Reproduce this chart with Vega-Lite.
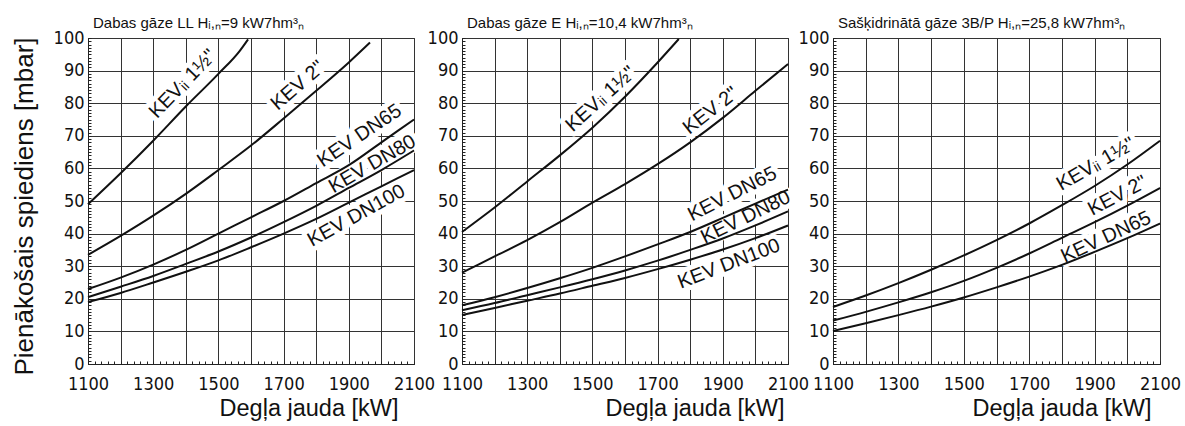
{
  "$schema": "https://vega.github.io/schema/vega-lite/v6.json",
  "padding": {"left": 10, "top": 15, "right": 5, "bottom": 2},
  "background": "white",
  "datasets": {
    "curves": [
      {"panel": "LL", "curve": "a", "x": 1100, "y": 49},
      {"panel": "LL", "curve": "a", "x": 1200, "y": 58.5},
      {"panel": "LL", "curve": "a", "x": 1300, "y": 68.5},
      {"panel": "LL", "curve": "a", "x": 1400, "y": 79},
      {"panel": "LL", "curve": "a", "x": 1500, "y": 89},
      {"panel": "LL", "curve": "a", "x": 1565, "y": 96},
      {"panel": "LL", "curve": "a", "x": 1591, "y": 99.6},
      {"panel": "LL", "curve": "b", "x": 1100, "y": 33.5},
      {"panel": "LL", "curve": "b", "x": 1200, "y": 39.3},
      {"panel": "LL", "curve": "b", "x": 1300, "y": 45.5},
      {"panel": "LL", "curve": "b", "x": 1400, "y": 52.2},
      {"panel": "LL", "curve": "b", "x": 1500, "y": 59.5},
      {"panel": "LL", "curve": "b", "x": 1600, "y": 67},
      {"panel": "LL", "curve": "b", "x": 1700, "y": 75.3},
      {"panel": "LL", "curve": "b", "x": 1800, "y": 83.8},
      {"panel": "LL", "curve": "b", "x": 1900, "y": 92.5},
      {"panel": "LL", "curve": "b", "x": 1965, "y": 98.6},
      {"panel": "LL", "curve": "c", "x": 1100, "y": 23},
      {"panel": "LL", "curve": "c", "x": 1200, "y": 26.5},
      {"panel": "LL", "curve": "c", "x": 1300, "y": 30.5},
      {"panel": "LL", "curve": "c", "x": 1400, "y": 35},
      {"panel": "LL", "curve": "c", "x": 1500, "y": 40},
      {"panel": "LL", "curve": "c", "x": 1600, "y": 45},
      {"panel": "LL", "curve": "c", "x": 1700, "y": 50},
      {"panel": "LL", "curve": "c", "x": 1800, "y": 55.5},
      {"panel": "LL", "curve": "c", "x": 1900, "y": 61},
      {"panel": "LL", "curve": "c", "x": 2000, "y": 68},
      {"panel": "LL", "curve": "c", "x": 2100, "y": 75},
      {"panel": "LL", "curve": "d", "x": 1100, "y": 20.5},
      {"panel": "LL", "curve": "d", "x": 1200, "y": 23.7},
      {"panel": "LL", "curve": "d", "x": 1300, "y": 27},
      {"panel": "LL", "curve": "d", "x": 1400, "y": 30.7},
      {"panel": "LL", "curve": "d", "x": 1500, "y": 34.5},
      {"panel": "LL", "curve": "d", "x": 1600, "y": 38.8},
      {"panel": "LL", "curve": "d", "x": 1700, "y": 43.5},
      {"panel": "LL", "curve": "d", "x": 1800, "y": 48.5},
      {"panel": "LL", "curve": "d", "x": 1900, "y": 54},
      {"panel": "LL", "curve": "d", "x": 2000, "y": 59.5},
      {"panel": "LL", "curve": "d", "x": 2100, "y": 65.5},
      {"panel": "LL", "curve": "e", "x": 1100, "y": 19},
      {"panel": "LL", "curve": "e", "x": 1200, "y": 21.8},
      {"panel": "LL", "curve": "e", "x": 1300, "y": 25},
      {"panel": "LL", "curve": "e", "x": 1400, "y": 28.3},
      {"panel": "LL", "curve": "e", "x": 1500, "y": 31.8},
      {"panel": "LL", "curve": "e", "x": 1600, "y": 35.8},
      {"panel": "LL", "curve": "e", "x": 1700, "y": 40},
      {"panel": "LL", "curve": "e", "x": 1800, "y": 44.5},
      {"panel": "LL", "curve": "e", "x": 1900, "y": 49.5},
      {"panel": "LL", "curve": "e", "x": 2000, "y": 54.5},
      {"panel": "LL", "curve": "e", "x": 2100, "y": 59.5},
      {"panel": "E", "curve": "a", "x": 1100, "y": 40.5},
      {"panel": "E", "curve": "a", "x": 1200, "y": 48},
      {"panel": "E", "curve": "a", "x": 1300, "y": 56},
      {"panel": "E", "curve": "a", "x": 1400, "y": 64},
      {"panel": "E", "curve": "a", "x": 1500, "y": 72.5},
      {"panel": "E", "curve": "a", "x": 1600, "y": 82},
      {"panel": "E", "curve": "a", "x": 1700, "y": 92.5},
      {"panel": "E", "curve": "a", "x": 1765, "y": 99.7},
      {"panel": "E", "curve": "b", "x": 1100, "y": 28},
      {"panel": "E", "curve": "b", "x": 1200, "y": 33},
      {"panel": "E", "curve": "b", "x": 1300, "y": 38},
      {"panel": "E", "curve": "b", "x": 1400, "y": 43.5},
      {"panel": "E", "curve": "b", "x": 1500, "y": 49.5},
      {"panel": "E", "curve": "b", "x": 1600, "y": 55.2},
      {"panel": "E", "curve": "b", "x": 1700, "y": 61.3},
      {"panel": "E", "curve": "b", "x": 1800, "y": 68},
      {"panel": "E", "curve": "b", "x": 1900, "y": 75.5},
      {"panel": "E", "curve": "b", "x": 2000, "y": 83.8},
      {"panel": "E", "curve": "b", "x": 2100, "y": 92},
      {"panel": "E", "curve": "c", "x": 1100, "y": 18},
      {"panel": "E", "curve": "c", "x": 1200, "y": 20.5},
      {"panel": "E", "curve": "c", "x": 1300, "y": 23.3},
      {"panel": "E", "curve": "c", "x": 1400, "y": 26.3},
      {"panel": "E", "curve": "c", "x": 1500, "y": 29.5},
      {"panel": "E", "curve": "c", "x": 1600, "y": 33},
      {"panel": "E", "curve": "c", "x": 1700, "y": 36.7},
      {"panel": "E", "curve": "c", "x": 1800, "y": 40.5},
      {"panel": "E", "curve": "c", "x": 1900, "y": 44.8},
      {"panel": "E", "curve": "c", "x": 2000, "y": 49.2},
      {"panel": "E", "curve": "c", "x": 2100, "y": 53.5},
      {"panel": "E", "curve": "d", "x": 1100, "y": 16.5},
      {"panel": "E", "curve": "d", "x": 1200, "y": 18.7},
      {"panel": "E", "curve": "d", "x": 1300, "y": 21.1},
      {"panel": "E", "curve": "d", "x": 1400, "y": 23.5},
      {"panel": "E", "curve": "d", "x": 1500, "y": 26},
      {"panel": "E", "curve": "d", "x": 1600, "y": 28.7},
      {"panel": "E", "curve": "d", "x": 1700, "y": 31.7},
      {"panel": "E", "curve": "d", "x": 1800, "y": 35},
      {"panel": "E", "curve": "d", "x": 1900, "y": 38.5},
      {"panel": "E", "curve": "d", "x": 2000, "y": 42.5},
      {"panel": "E", "curve": "d", "x": 2100, "y": 46.8},
      {"panel": "E", "curve": "e", "x": 1100, "y": 15},
      {"panel": "E", "curve": "e", "x": 1200, "y": 17.2},
      {"panel": "E", "curve": "e", "x": 1300, "y": 19.4},
      {"panel": "E", "curve": "e", "x": 1400, "y": 21.6},
      {"panel": "E", "curve": "e", "x": 1500, "y": 24},
      {"panel": "E", "curve": "e", "x": 1600, "y": 26.4},
      {"panel": "E", "curve": "e", "x": 1700, "y": 29.1},
      {"panel": "E", "curve": "e", "x": 1800, "y": 32},
      {"panel": "E", "curve": "e", "x": 1900, "y": 35.1},
      {"panel": "E", "curve": "e", "x": 2000, "y": 38.6},
      {"panel": "E", "curve": "e", "x": 2100, "y": 42.5},
      {"panel": "P", "curve": "a", "x": 1100, "y": 17.5},
      {"panel": "P", "curve": "a", "x": 1200, "y": 21},
      {"panel": "P", "curve": "a", "x": 1300, "y": 24.8},
      {"panel": "P", "curve": "a", "x": 1400, "y": 28.9},
      {"panel": "P", "curve": "a", "x": 1500, "y": 33.3},
      {"panel": "P", "curve": "a", "x": 1600, "y": 38},
      {"panel": "P", "curve": "a", "x": 1700, "y": 43.1},
      {"panel": "P", "curve": "a", "x": 1800, "y": 48.7},
      {"panel": "P", "curve": "a", "x": 1900, "y": 54.6},
      {"panel": "P", "curve": "a", "x": 2000, "y": 61.2},
      {"panel": "P", "curve": "a", "x": 2100, "y": 68.5},
      {"panel": "P", "curve": "b", "x": 1100, "y": 13.3},
      {"panel": "P", "curve": "b", "x": 1200, "y": 16},
      {"panel": "P", "curve": "b", "x": 1300, "y": 18.9},
      {"panel": "P", "curve": "b", "x": 1400, "y": 22},
      {"panel": "P", "curve": "b", "x": 1500, "y": 25.5},
      {"panel": "P", "curve": "b", "x": 1600, "y": 29.5},
      {"panel": "P", "curve": "b", "x": 1700, "y": 33.9},
      {"panel": "P", "curve": "b", "x": 1800, "y": 38.7},
      {"panel": "P", "curve": "b", "x": 1900, "y": 43.5},
      {"panel": "P", "curve": "b", "x": 2000, "y": 48.6},
      {"panel": "P", "curve": "b", "x": 2100, "y": 54},
      {"panel": "P", "curve": "c", "x": 1100, "y": 10.1},
      {"panel": "P", "curve": "c", "x": 1200, "y": 12.5},
      {"panel": "P", "curve": "c", "x": 1300, "y": 15},
      {"panel": "P", "curve": "c", "x": 1400, "y": 17.6},
      {"panel": "P", "curve": "c", "x": 1500, "y": 20.4},
      {"panel": "P", "curve": "c", "x": 1600, "y": 23.5},
      {"panel": "P", "curve": "c", "x": 1700, "y": 26.8},
      {"panel": "P", "curve": "c", "x": 1800, "y": 30.4},
      {"panel": "P", "curve": "c", "x": 1900, "y": 34.4},
      {"panel": "P", "curve": "c", "x": 2000, "y": 38.6},
      {"panel": "P", "curve": "c", "x": 2100, "y": 43.1}
    ],
    "labels": [
      {"panel": "LL", "label": "KEVᵢᵢ 1½\"", "x": 1391, "y": 85.9, "angle": -46},
      {"panel": "LL", "label": "KEV 2\"", "x": 1744, "y": 85.4, "angle": -41},
      {"panel": "LL", "label": "KEV DN65", "x": 1933, "y": 70, "angle": -34},
      {"panel": "LL", "label": "KEV DN80", "x": 1972, "y": 61.3, "angle": -30},
      {"panel": "LL", "label": "KEV DN100", "x": 1923, "y": 45.5, "angle": -29},
      {"panel": "E", "label": "KEVᵢᵢ 1½\"", "x": 1526, "y": 81.3, "angle": -42},
      {"panel": "E", "label": "KEV 2\"", "x": 1863, "y": 77.7, "angle": -38},
      {"panel": "E", "label": "KEV DN65", "x": 1929, "y": 52.1, "angle": -27},
      {"panel": "E", "label": "KEV DN80", "x": 1970, "y": 45, "angle": -26},
      {"panel": "E", "label": "KEV DN100", "x": 1919, "y": 30.7, "angle": -21},
      {"panel": "P", "label": "KEVᵢᵢ 1½\"", "x": 1904, "y": 61.3, "angle": -30},
      {"panel": "P", "label": "KEV 2\"", "x": 1970, "y": 51.6, "angle": -28},
      {"panel": "P", "label": "KEV DN65", "x": 1935, "y": 38.9, "angle": -25}
    ]
  },
  "config": {
    "font": "Liberation Sans",
    "view": {"stroke": "#222", "strokeWidth": 1},
    "axis": {
      "labelFont": "DejaVu Sans Condensed, sans-serif",
      "labelFontSize": 18,
      "labelColor": "#111",
      "titleFont": "Liberation Sans",
      "titleFontWeight": "normal",
      "titleColor": "#111",
      "gridColor": "#333",
      "gridOpacity": 1,
      "gridWidth": 1,
      "domainColor": "#222",
      "tickColor": "#222",
      "labelOverlap": false,
      "labelFlush": false
    },
    "title": {"anchor": "start", "frame": "group", "fontSize": 15, "fontWeight": "normal", "font": "Liberation Sans", "color": "#111", "baseline": "alphabetic", "offset": -2, "dx": 5}
  },
  "spacing": 48,
  "bounds": "flush",
  "hconcat": [
    {
      "width": 326, "height": 326,
      "title": {"text": "Dabas gāze LL Hᵢ,ₙ=9 kW7hm³ₙ"},
      "layer": [
        {
          "data": {"name": "labels"},
          "transform": [{"filter": "datum.panel === 'LL'"}],
          "mark": {"type": "text", "fontSize": 20, "fill": "white", "stroke": "white", "strokeWidth": 10, "strokeJoin": "round", "align": "center", "baseline": "middle"},
          "encoding": {
            "x": {"field": "x", "type": "quantitative", "scale": {"domain": [1100, 2100], "nice": false, "zero": false},
              "axis": {"orient": "bottom", "values": [1100,1120,1140,1160,1180,1200,1220,1240,1260,1280,1300,1320,1340,1360,1380,1400,1420,1440,1460,1480,1500,1520,1540,1560,1580,1600,1620,1640,1660,1680,1700,1720,1740,1760,1780,1800,1820,1840,1860,1880,1900,1920,1940,1960,1980,2000,2020,2040,2060,2080,2100], "labels": false, "domain": false, "grid": false, "tickSize": -3, "title": null}},
            "y": {"field": "y", "type": "quantitative", "scale": {"domain": [0, 100], "nice": false, "zero": false},
              "axis": {"orient": "left", "values": [0,1,2,3,4,5,6,7,8,9,10,11,12,13,14,15,16,17,18,19,20,21,22,23,24,25,26,27,28,29,30,31,32,33,34,35,36,37,38,39,40,41,42,43,44,45,46,47,48,49,50,51,52,53,54,55,56,57,58,59,60,61,62,63,64,65,66,67,68,69,70,71,72,73,74,75,76,77,78,79,80,81,82,83,84,85,86,87,88,89,90,91,92,93,94,95,96,97,98,99,100], "labels": false, "domain": false, "grid": false, "tickSize": -3, "title": null}},
            "text": {"field": "label"},
            "angle": {"field": "angle", "type": "quantitative", "scale": null}
          }
        },
        {
          "data": {"name": "curves"},
          "transform": [{"filter": "datum.panel === 'LL'"}],
          "mark": {"type": "line", "interpolate": "monotone", "color": "#111", "strokeWidth": 2},
          "encoding": {
            "x": {"field": "x", "type": "quantitative", "scale": {"domain": [1100, 2100], "nice": false, "zero": false},
              "axis": {"orient": "bottom", "values": [1100,1200,1300,1400,1500,1600,1700,1800,1900,2000,2100], "labelExpr": "datum.value % 200 == 100 ? datum.value : ''", "ticks": false, "labelPadding": 11, "grid": true, "title": "Degļa jauda [kW]", "titleFontSize": 23.5, "titleX": 310, "titleY": 51, "titleAlign": "right", "titleBaseline": "alphabetic"}},
            "y": {"field": "y", "type": "quantitative", "scale": {"domain": [0, 100], "nice": false, "zero": false},
              "axis": {"orient": "left", "values": [0,10,20,30,40,50,60,70,80,90,100], "ticks": false, "labelPadding": 4, "grid": true, "title": "Pienākošais spiediens [mbar]", "titleFontSize": 26, "titleX": -64, "titleY": 168, "titleAngle": 270, "titleAlign": "center", "titleBaseline": "middle"}},
            "detail": {"field": "curve"}
          }
        },
        {
          "data": {"name": "labels"},
          "transform": [{"filter": "datum.panel === 'LL'"}],
          "mark": {"type": "text", "fontSize": 20, "fill": "#111", "align": "center", "baseline": "middle"},
          "encoding": {
            "x": {"field": "x", "type": "quantitative", "scale": {"domain": [1100, 2100], "nice": false, "zero": false}, "axis": null},
            "y": {"field": "y", "type": "quantitative", "scale": {"domain": [0, 100], "nice": false, "zero": false}, "axis": null},
            "text": {"field": "label"},
            "angle": {"field": "angle", "type": "quantitative", "scale": null}
          }
        }
      ],
      "resolve": {"axis": {"x": "independent", "y": "independent"}}
    },
    {
      "spacing": 45,
      "bounds": "flush",
      "hconcat": [
        {
          "width": 326, "height": 326,
          "title": {"text": "Dabas gāze E Hᵢ,ₙ=10,4 kW7hm³ₙ"},
          "layer": [
            {
              "data": {"name": "labels"},
              "transform": [{"filter": "datum.panel === 'E'"}],
              "mark": {"type": "text", "fontSize": 20, "fill": "white", "stroke": "white", "strokeWidth": 10, "strokeJoin": "round", "align": "center", "baseline": "middle"},
              "encoding": {
                "x": {"field": "x", "type": "quantitative", "scale": {"domain": [1100, 2100], "nice": false, "zero": false},
                  "axis": {"orient": "bottom", "values": [1100,1120,1140,1160,1180,1200,1220,1240,1260,1280,1300,1320,1340,1360,1380,1400,1420,1440,1460,1480,1500,1520,1540,1560,1580,1600,1620,1640,1660,1680,1700,1720,1740,1760,1780,1800,1820,1840,1860,1880,1900,1920,1940,1960,1980,2000,2020,2040,2060,2080,2100], "labels": false, "domain": false, "grid": false, "tickSize": -3, "title": null}},
                "y": {"field": "y", "type": "quantitative", "scale": {"domain": [0, 100], "nice": false, "zero": false},
                  "axis": {"orient": "left", "values": [0,1,2,3,4,5,6,7,8,9,10,11,12,13,14,15,16,17,18,19,20,21,22,23,24,25,26,27,28,29,30,31,32,33,34,35,36,37,38,39,40,41,42,43,44,45,46,47,48,49,50,51,52,53,54,55,56,57,58,59,60,61,62,63,64,65,66,67,68,69,70,71,72,73,74,75,76,77,78,79,80,81,82,83,84,85,86,87,88,89,90,91,92,93,94,95,96,97,98,99,100], "labels": false, "domain": false, "grid": false, "tickSize": -3, "title": null}},
                "text": {"field": "label"},
                "angle": {"field": "angle", "type": "quantitative", "scale": null}
              }
            },
            {
              "data": {"name": "curves"},
              "transform": [{"filter": "datum.panel === 'E'"}],
              "mark": {"type": "line", "interpolate": "monotone", "color": "#111", "strokeWidth": 2},
              "encoding": {
                "x": {"field": "x", "type": "quantitative", "scale": {"domain": [1100, 2100], "nice": false, "zero": false},
                  "axis": {"orient": "bottom", "values": [1100,1200,1300,1400,1500,1600,1700,1800,1900,2000,2100], "labelExpr": "datum.value % 200 == 100 ? datum.value : ''", "ticks": false, "labelPadding": 11, "grid": true, "title": "Degļa jauda [kW]", "titleFontSize": 23.5, "titleX": 322, "titleY": 51, "titleAlign": "right", "titleBaseline": "alphabetic"}},
                "y": {"field": "y", "type": "quantitative", "scale": {"domain": [0, 100], "nice": false, "zero": false},
                  "axis": {"orient": "left", "values": [0,10,20,30,40,50,60,70,80,90,100], "ticks": false, "labelPadding": 4, "grid": true, "title": null}},
                "detail": {"field": "curve"}
              }
            },
            {
              "data": {"name": "labels"},
              "transform": [{"filter": "datum.panel === 'E'"}],
              "mark": {"type": "text", "fontSize": 20, "fill": "#111", "align": "center", "baseline": "middle"},
              "encoding": {
                "x": {"field": "x", "type": "quantitative", "scale": {"domain": [1100, 2100], "nice": false, "zero": false}, "axis": null},
                "y": {"field": "y", "type": "quantitative", "scale": {"domain": [0, 100], "nice": false, "zero": false}, "axis": null},
                "text": {"field": "label"},
                "angle": {"field": "angle", "type": "quantitative", "scale": null}
              }
            }
          ],
          "resolve": {"axis": {"x": "independent", "y": "independent"}}
        },
        {
          "width": 327, "height": 326,
          "title": {"text": "Sašķidrinātā gāze 3B/P Hᵢ,ₙ=25,8 kW7hm³ₙ"},
          "layer": [
            {
              "data": {"name": "labels"},
              "transform": [{"filter": "datum.panel === 'P'"}],
              "mark": {"type": "text", "fontSize": 20, "fill": "white", "stroke": "white", "strokeWidth": 10, "strokeJoin": "round", "align": "center", "baseline": "middle"},
              "encoding": {
                "x": {"field": "x", "type": "quantitative", "scale": {"domain": [1100, 2100], "nice": false, "zero": false},
                  "axis": {"orient": "bottom", "values": [1100,1120,1140,1160,1180,1200,1220,1240,1260,1280,1300,1320,1340,1360,1380,1400,1420,1440,1460,1480,1500,1520,1540,1560,1580,1600,1620,1640,1660,1680,1700,1720,1740,1760,1780,1800,1820,1840,1860,1880,1900,1920,1940,1960,1980,2000,2020,2040,2060,2080,2100], "labels": false, "domain": false, "grid": false, "tickSize": -3, "title": null}},
                "y": {"field": "y", "type": "quantitative", "scale": {"domain": [0, 100], "nice": false, "zero": false},
                  "axis": {"orient": "left", "values": [0,1,2,3,4,5,6,7,8,9,10,11,12,13,14,15,16,17,18,19,20,21,22,23,24,25,26,27,28,29,30,31,32,33,34,35,36,37,38,39,40,41,42,43,44,45,46,47,48,49,50,51,52,53,54,55,56,57,58,59,60,61,62,63,64,65,66,67,68,69,70,71,72,73,74,75,76,77,78,79,80,81,82,83,84,85,86,87,88,89,90,91,92,93,94,95,96,97,98,99,100], "labels": false, "domain": false, "grid": false, "tickSize": -3, "title": null}},
                "text": {"field": "label"},
                "angle": {"field": "angle", "type": "quantitative", "scale": null}
              }
            },
            {
              "data": {"name": "curves"},
              "transform": [{"filter": "datum.panel === 'P'"}],
              "mark": {"type": "line", "interpolate": "monotone", "color": "#111", "strokeWidth": 2},
              "encoding": {
                "x": {"field": "x", "type": "quantitative", "scale": {"domain": [1100, 2100], "nice": false, "zero": false},
                  "axis": {"orient": "bottom", "values": [1100,1200,1300,1400,1500,1600,1700,1800,1900,2000,2100], "labelExpr": "datum.value % 200 == 100 ? datum.value : ''", "ticks": false, "labelPadding": 11, "grid": true, "title": "Degļa jauda [kW]", "titleFontSize": 23.5, "titleX": 318, "titleY": 51, "titleAlign": "right", "titleBaseline": "alphabetic"}},
                "y": {"field": "y", "type": "quantitative", "scale": {"domain": [0, 100], "nice": false, "zero": false},
                  "axis": {"orient": "left", "values": [0,10,20,30,40,50,60,70,80,90,100], "ticks": false, "labelPadding": 4, "grid": true, "title": null}},
                "detail": {"field": "curve"}
              }
            },
            {
              "data": {"name": "labels"},
              "transform": [{"filter": "datum.panel === 'P'"}],
              "mark": {"type": "text", "fontSize": 20, "fill": "#111", "align": "center", "baseline": "middle"},
              "encoding": {
                "x": {"field": "x", "type": "quantitative", "scale": {"domain": [1100, 2100], "nice": false, "zero": false}, "axis": null},
                "y": {"field": "y", "type": "quantitative", "scale": {"domain": [0, 100], "nice": false, "zero": false}, "axis": null},
                "text": {"field": "label"},
                "angle": {"field": "angle", "type": "quantitative", "scale": null}
              }
            }
          ],
          "resolve": {"axis": {"x": "independent", "y": "independent"}}
        }
      ]
    }
  ]
}
